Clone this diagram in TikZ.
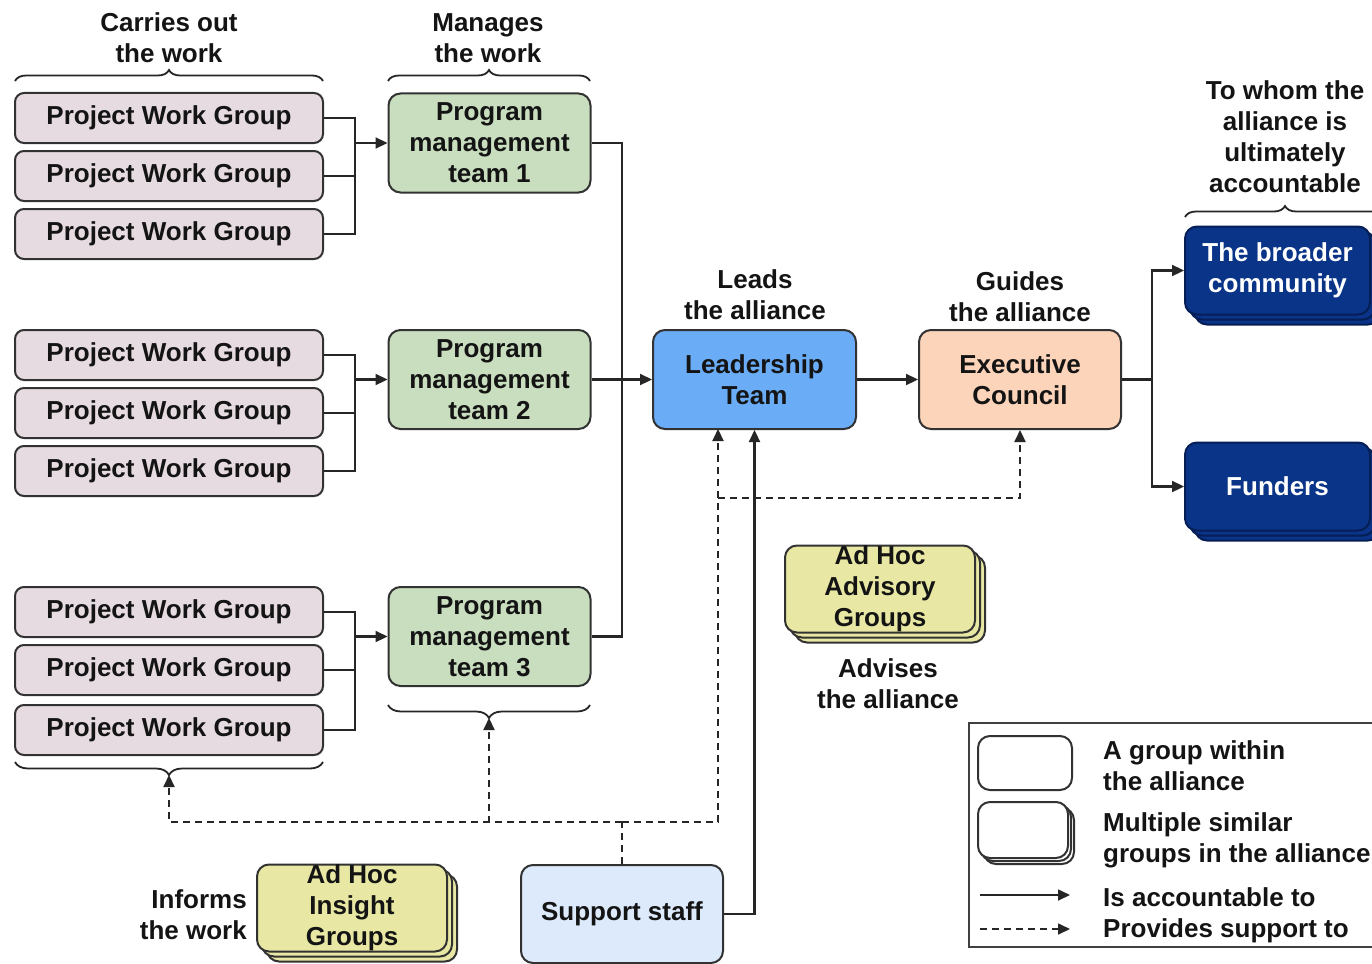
\documentclass[tikz,border=0pt]{standalone}
\usepackage{fontspec}
\setmainfont{Liberation Sans}
\usetikzlibrary{arrows.meta,shadows,decorations.pathreplacing}
\definecolor{pwgc}{RGB}{230,219,224}
\definecolor{pmtc}{RGB}{200,222,190}
\definecolor{ltc}{RGB}{106,172,246}
\definecolor{ecc}{RGB}{251,212,186}
\definecolor{navyc}{RGB}{10,52,135}
\definecolor{navyd}{RGB}{5,30,85}
\definecolor{ssc}{RGB}{220,234,251}
\definecolor{yelc}{RGB}{232,232,164}
\definecolor{edgec}{RGB}{50,50,50}
\definecolor{txtc}{RGB}{20,20,20}
\begin{document}
\begin{tikzpicture}[x=1pt,y=-1pt,
  font=\fontsize{26}{31}\selectfont\bfseries, text=txtc,
  box/.style={draw=edgec, line width=2pt, rounded corners=12pt, align=center, inner sep=0pt},
  pwg/.style={box, fill=pwgc, minimum width=308pt, minimum height=50pt, rounded corners=9pt},
  pmt/.style={box, fill=pmtc, minimum width=202pt, minimum height=99pt},
  stackbox/.style={box, double copy shadow={shadow xshift=5pt, shadow yshift=-5pt}},
  navybox/.style={stackbox, fill=navyc, draw=navyd, text=white, minimum width=185pt, minimum height=88pt},
  yelbox/.style={stackbox, fill=yelc, minimum width=190pt, minimum height=87pt},
  wire/.style={line width=2.2pt, draw=black!85},
  acc/.style={wire, -{Triangle[length=12pt,width=11pt]}},
  supp/.style={acc, dash pattern=on 7pt off 5pt},
  suppline/.style={wire, dash pattern=on 7pt off 5pt},
  bracestyle/.style={line width=1.8pt, draw=black!85, decorate, decoration={brace, amplitude=#1}},
  lbl/.style={align=center, inner sep=0pt}
]
\useasboundingbox (0,0) rectangle (1372,963);

% labels
\node[lbl] (l1) at (169,38) {Carries out\\the work};
\node[lbl] (l2) at (488,38) {Manages\\the work};
\node[lbl] (l3) at (1285,137) {To whom the\\alliance is\\ultimately\\accountable};
\node[lbl] (l4) at (755,295) {Leads\\the alliance};
\node[lbl] (l5) at (1020,297) {Guides\\the alliance};
\node[lbl] (l6) at (888,684) {Advises\\the alliance};
\node[lbl, align=right, anchor=east] (l7) at (247,915) {Informs\\the work};

% braces
\draw[bracestyle=11pt] (15,81) -- (323,81);
\draw[bracestyle=11pt] (388,81) -- (590,81);
\draw[bracestyle=11pt] (1185,217) -- (1385,217);
\draw[bracestyle=13pt] (590,705) -- (388,705);
\draw[bracestyle=13pt] (323,762) -- (15,762);
\coordinate (t2) at (489,718);
\coordinate (t1) at (169,775);

% project work groups
\node[pwg] (w11) at (169,118) {Project Work Group};
\node[pwg] (w12) at (169,176) {Project Work Group};
\node[pwg] (w13) at (169,234) {Project Work Group};
\node[pwg] (w21) at (169,355) {Project Work Group};
\node[pwg] (w22) at (169,413) {Project Work Group};
\node[pwg] (w23) at (169,471) {Project Work Group};
\node[pwg] (w31) at (169,612) {Project Work Group};
\node[pwg] (w32) at (169,670) {Project Work Group};
\node[pwg] (w33) at (169,730) {Project Work Group};

% program management teams
\node[pmt] (p1) at (489.5,143) {Program\\management\\team 1};
\node[pmt] (p2) at (489.5,379.5) {Program\\management\\team 2};
\node[pmt] (p3) at (489.5,636.5) {Program\\management\\team 3};

% leadership and council
\node[box, fill=ltc, minimum width=203pt, minimum height=99pt] (lt) at (754.5,379.5) {Leadership\\Team};
\node[box, fill=ecc, minimum width=202pt, minimum height=99pt] (ec) at (1020,379.5) {Executive\\Council};

% broader community, funders
\node[navybox] (bc) at (1277.5,270.5) {The broader\\community};
\node[navybox] (fu) at (1277.5,486.5) {Funders};

% ad hoc groups
\node[yelbox] (adv) at (880,589) {Ad Hoc\\Advisory\\Groups};
\node[yelbox] (ins) at (352,908) {Ad Hoc\\Insight\\Groups};

% support staff
\node[box, fill=ssc, minimum width=202pt, minimum height=98pt] (ss) at (622,914) {Support staff};

% buses PWG -> PMT
\coordinate (j1) at (355,143);
\draw[wire] (w11.east) -| (j1);
\draw[wire] (w13.east) -| (j1);
\draw[wire] (w12.east) -- (w12.east -| j1);
\draw[acc] (j1) -- (p1.west);
\coordinate (j2) at (355,379.5);
\draw[wire] (w21.east) -| (j2);
\draw[wire] (w23.east) -| (j2);
\draw[wire] (w22.east) -- (w22.east -| j2);
\draw[acc] (j2) -- (p2.west);
\coordinate (j3) at (355,636.5);
\draw[wire] (w31.east) -| (j3);
\draw[wire] (w33.east) -| (j3);
\draw[wire] (w32.east) -- (w32.east -| j3);
\draw[acc] (j3) -- (p3.west);

% PMT -> LT
\coordinate (k) at (622,379.5);
\draw[wire] (p1.east) -| (k);
\draw[wire] (p3.east) -| (k);
\draw[acc] (p2.east) -- (lt.west);

% LT -> EC -> broader/funders
\draw[acc] (lt.east) -- (ec.west);
\coordinate (m) at (1152,379.5);
\draw[wire] (ec.east) -- (m);
\draw[acc] (m) |- (bc.west);
\draw[acc] (m) |- (fu.west);

% support staff
\draw[acc] (ss.east) -| (lt.south);
\coordinate (d0) at (622,822);
\coordinate (d1) at (718,498);
\coordinate (ltd) at (718,429);
\draw[suppline] (ss.north) -- (d0);
\draw[supp] (d0) -| (t1);
\draw[supp] (d0) -| (t2);
\draw[supp] (d0) -| (ltd);
\draw[supp] (d1) -| (ec.south);

% legend
\draw[line width=2pt, draw=black!75] (969,723) rectangle (1385,947);
\node[box, fill=white, minimum width=94pt, minimum height=54pt] (lg1) at (1025,763) {};
\node[box, fill=white, minimum width=90pt, minimum height=56pt, double copy shadow={shadow xshift=3pt, shadow yshift=-3pt}] (lg2) at (1023,830) {};
\node[lbl, align=left, anchor=west] (lt1) at (1103,766) {A group within\\the alliance};
\node[lbl, align=left, anchor=west] (lt2) at (1103,840) {Multiple similar\\groups in the alliance};
\node[lbl, anchor=west] (lt3) at (1103,897) {Is accountable to};
\node[lbl, anchor=west] (lt4) at (1103,931) {Provides support to};
\coordinate (la1) at (980,895);
\coordinate (la2) at (1070,895);
\coordinate (lb1) at (980,929);
\coordinate (lb2) at (1070,929);
\draw[acc, line width=1.6pt] (la1) -- (la2);
\draw[supp, line width=1.6pt] (lb1) -- (lb2);
\end{tikzpicture}
\end{document}
